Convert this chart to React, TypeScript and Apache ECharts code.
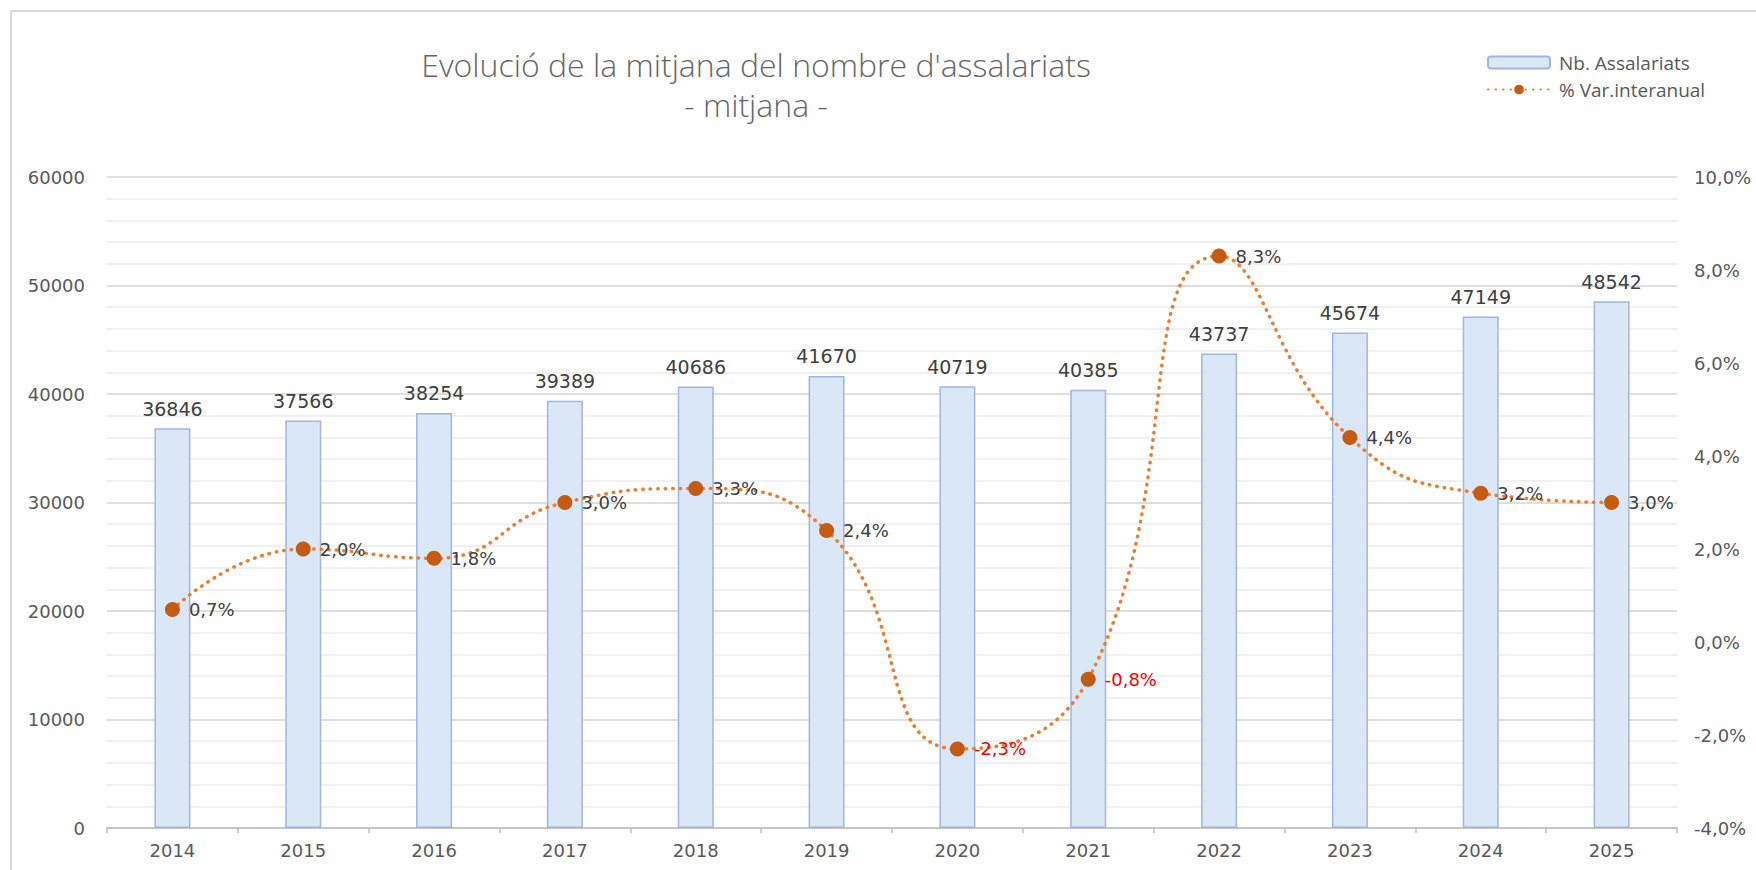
import React, { useEffect, useRef } from "react";
import * as echarts from "echarts";

const years = ["2014", "2015", "2016", "2017", "2018", "2019", "2020", "2021", "2022", "2023", "2024", "2025"];
const employees = [36846, 37566, 38254, 39389, 40686, 41670, 40719, 40385, 43737, 45674, 47149, 48542];
const yoyChange = [0.7, 2.0, 1.8, 3.0, 3.3, 2.4, -2.3, -0.8, 8.3, 4.4, 3.2, 3.0];
const titleLines = ["Evolució de la mitjana del nombre d'assalariats", "- mitjana -"];
const seriesNames = ["Nb. Assalariats", "% Var.interanual"];

const pct = (v: number) => v.toFixed(1).replace(".", ",") + "%";
const numFont = "DejaVu Sans";
const textFont = "Open Sans";

export default function App() {
  const ref = useRef<HTMLDivElement>(null);
  useEffect(() => {
    if (!ref.current) return;
    const chart = echarts.init(ref.current, undefined, { renderer: "svg" });
    chart.setOption({
      animation: false,
      backgroundColor: "#ffffff",
      graphic: [
        {
          type: "rect",
          shape: { x: 11, y: 11, width: 1800, height: 900 },
          style: { fill: "none", stroke: "#D9D9D9", lineWidth: 2 },
          silent: true,
        },
        {
          type: "text",
          x: 756,
          y: 64,
          style: {
            text: titleLines[0],
            fontFamily: textFont,
            fontSize: 32,
            fontWeight: 300,
            fill: "#666666",
            align: "center",
            verticalAlign: "middle",
          },
        },
        {
          type: "text",
          x: 756,
          y: 104,
          style: {
            text: titleLines[1],
            fontFamily: textFont,
            fontSize: 32,
            fontWeight: 300,
            fill: "#666666",
            align: "center",
            verticalAlign: "middle",
          },
        },
      ],
      legend: {
        orient: "vertical",
        left: 1482,
        top: 48,
        itemWidth: 62,
        itemHeight: 12,
        itemGap: 8,
        data: seriesNames,
        textStyle: { fontFamily: textFont, fontSize: 19, color: "#595959", padding: [0, 0, 0, 4] },
      },
      grid: { left: 107, right: 79, top: 177, bottom: 870 - 828 },
      xAxis: {
        type: "category",
        data: years,
        boundaryGap: true,
        axisLine: { lineStyle: { color: "#BFBFBF", width: 1.5 } },
        axisTick: { show: true, length: 5, lineStyle: { color: "#BFBFBF", width: 1.5 } },
        axisLabel: { fontFamily: numFont, fontSize: 18, color: "#595959", margin: 13 },
      },
      yAxis: [
        {
          type: "value",
          min: 0,
          max: 60000,
          interval: 10000,
          axisLine: { show: false },
          axisTick: { show: false },
          axisLabel: {
            fontFamily: numFont,
            fontSize: 18,
            color: "#595959",
            margin: 22,
            formatter: (v: number) => String(v),
          },
          splitLine: { show: true, lineStyle: { color: "#D5D5D5", width: 1.5 } },
          minorTick: { show: false, splitNumber: 5 },
          minorSplitLine: { show: true, lineStyle: { color: "#EDEDED", width: 1.5 } },
        },
        {
          type: "value",
          min: -4,
          max: 10,
          interval: 2,
          position: "right",
          axisLine: { show: false },
          axisTick: { show: false },
          splitLine: { show: false },
          axisLabel: {
            fontFamily: numFont,
            fontSize: 18,
            color: "#595959",
            margin: 17,
            formatter: (v: number) => pct(v),
          },
        },
      ],
      series: [
        {
          name: seriesNames[0],
          type: "bar",
          data: employees,
          barWidth: 36,
          itemStyle: { color: "#DAE7F6", borderColor: "#9FB6E0", borderWidth: 1.5 },
          label: {
            show: true,
            position: "top",
            distance: 10,
            fontFamily: numFont,
            fontSize: 19,
            color: "#404040",
          },
        },
        {
          name: seriesNames[1],
          type: "line",
          yAxisIndex: 1,
          smooth: 0.5,
          data: yoyChange.map((v) => ({
            value: v,
            label: v < 0 ? { color: "#FF0000" } : undefined,
          })),
          symbol: "circle",
          symbolSize: 15,
          itemStyle: { color: "#C55A11" },
          lineStyle: { color: "#ED7D31", width: 3.5, type: [0.5, 7], cap: "round" },
          label: {
            show: true,
            position: "right",
            distance: 9,
            fontFamily: numFont,
            fontSize: 18,
            color: "#404040",
            formatter: (p: any) => pct(p.value),
          },
          z: 5,
        },
      ],
    });
    return () => chart.dispose();
  }, []);
  return (
    <div
      ref={ref}
      style={{ position: "fixed", left: 0, top: 0, width: 1756, height: 870 }}
    />
  );
}
